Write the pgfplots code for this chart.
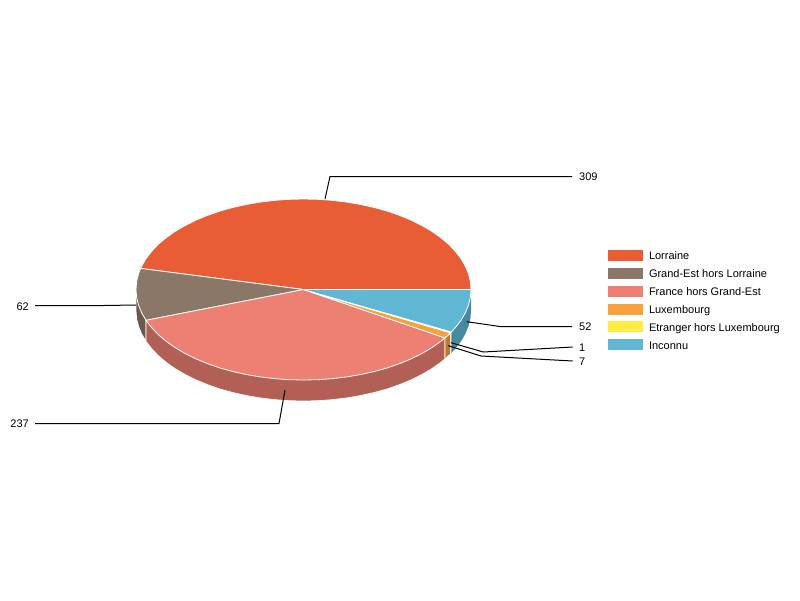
\documentclass[border=0pt]{standalone}
\usepackage{fontspec}
\setmainfont{Liberation Sans}
\usepackage{pgfplots}
\pgfplotsset{compat=1.18}

\definecolor{lorraine}{HTML}{E85C36}
\definecolor{grandest}{HTML}{8A7768}
\definecolor{france}{HTML}{ED8073}
\definecolor{luxembourg}{HTML}{F8A13C}
\definecolor{etranger}{HTML}{FFED41}
\definecolor{inconnu}{HTML}{5FB7D4}

\begin{document}
\begin{tikzpicture}[font=\fontsize{11}{13}\selectfont]
\useasboundingbox (0,0) rectangle (800pt,600pt);
\begin{axis}[
    anchor=south west,
    at={(0pt,0pt)},
    scale only axis,
    width=800pt,
    height=600pt,
    xmin=0, xmax=800,
    ymin=0, ymax=600,
    y dir=reverse,
    hide axis,
    clip=false,
    legend cell align=left,
    legend image code/.code={\fill[#1] (0pt,-3.5pt) rectangle (35pt,7.5pt); \path (41pt,0pt);},
    legend style={
        at={(axis cs:608,249.8)}, anchor=north west,
        draw=none, fill=none, inner sep=0pt, outer sep=0pt,
        row sep=5.4pt,
        column sep=0pt,
        nodes={inner sep=0pt, outer sep=0pt, text height=7.5pt, text depth=2.5pt},
    },
    pie/.style={forget plot, mark=none, draw=white, line width=0.8pt, line join=round},
    wall/.style={forget plot, mark=none, draw=white, line width=0.7pt, line join=round},
    lead/.style={forget plot, mark=none, draw=black, line width=1pt},
]

% side walls
\addplot[wall, fill=grandest!75!black] coordinates {
    (136,289.5)(136,310.5)(136.6,318.4)(138.5,326.2)(141.7,333.9)(146,341.3)(146,320.3)(136,289.5)
};
\addplot[wall, fill=france!75!black] coordinates {
    (146,320.3)(146,341.3)(151.7,348.7)(158.4,355.8)(166.3,362.4)(175.2,368.7)(185.1,374.5)(195.8,379.8)
    (207.4,384.6)(219.7,388.9)(232.7,392.5)(246.2,395.5)(260.1,397.9)(274.4,399.6)(288.9,400.7)(303.5,401)
    (318.1,400.7)(332.6,399.6)(346.9,397.9)(360.8,395.5)(374.3,392.5)(387.3,388.9)(399.6,384.6)(411.2,379.8)
    (421.9,374.5)(431.8,368.7)(440.7,362.4)(445,358.9)(445,337.9)(146,320.3)
};
\addplot[wall, fill=luxembourg!75!black] coordinates {
    (445,337.9)(445,358.9)(450.6,353.8)(450.6,332.8)(445,337.9)
};
\addplot[wall, fill=etranger!75!black] coordinates {
    (450.6,332.8)(450.6,353.8)(451.4,353)(451.4,332)(450.6,332.8)
};
\addplot[forget plot, mark=none, draw=none, fill=inconnu!75!black] coordinates {
    (451.4,332)(451.4,353)(455.3,348.7)(460.9,341.5)(465.3,333.9)(468.5,326.2)(470.4,318.4)(471,310.5)(471,289.5)(451.4,332)
};

% top face
\addplot[pie, fill=lorraine] coordinates {
    (303.5,289.5)(471,289.5)(470.4,281.6)(468.5,273.8)(465.3,266.1)(460.9,258.5)(455.3,251.3)(448.6,244.2)
    (440.7,237.6)(431.8,231.3)(421.9,225.5)(411.2,220.2)(399.6,215.4)(387.3,211.1)(374.3,207.5)(360.8,204.5)
    (346.9,202.1)(332.6,200.4)(318.1,199.3)(303.5,199)(288.9,199.3)(274.4,200.4)(260.1,202.1)(246.2,204.5)
    (232.7,207.5)(219.7,211.1)(207.4,215.4)(195.8,220.2)(185.1,225.5)(175.2,231.3)(166.3,237.6)(158.4,244.2)
    (151.7,251.3)(146.1,258.5)(141.7,266.1)(140.6,268.4)(303.5,289.5)
};
\addplot[pie, fill=grandest] coordinates {
    (303.5,289.5)(140.6,268.4)(138.5,273.8)(136.6,281.6)(136,289.5)(136.6,297.4)(138.5,305.2)(141.7,312.9)(146,320.3)(303.5,289.5)
};
\addplot[pie, fill=france] coordinates {
    (303.5,289.5)(146,320.3)(151.7,327.7)(158.4,334.8)(166.3,341.4)(175.2,347.7)(185.1,353.5)(195.8,358.8)
    (207.4,363.6)(219.7,367.9)(232.7,371.5)(246.2,374.5)(260.1,376.9)(274.4,378.6)(288.9,379.7)(303.5,380)
    (318.1,379.7)(332.6,378.6)(346.9,376.9)(360.8,374.5)(374.3,371.5)(387.3,367.9)(399.6,363.6)(411.2,358.8)
    (421.9,353.5)(431.8,347.7)(440.7,341.4)(445,337.9)(303.5,289.5)
};
\addplot[pie, fill=luxembourg] coordinates {
    (303.5,289.5)(445,337.9)(450.6,332.8)(303.5,289.5)
};
\addplot[pie, fill=etranger] coordinates {
    (303.5,289.5)(450.6,332.8)(451.4,332)(303.5,289.5)
};
\addplot[pie, fill=inconnu] coordinates {
    (303.5,289.5)(451.4,332)(455.3,327.7)(460.9,320.5)(465.3,312.9)(468.5,305.2)(470.4,297.4)(471,289.5)(303.5,289.5)
};

% leader lines
\addplot[lead] coordinates {(325,199)(330,176.5)(572,176.5)};
\addplot[lead] coordinates {(136,305)(104,305.5)(35,305.5)};
\addplot[lead] coordinates {(285,390)(279,423.5)(35,423.5)};
\addplot[lead] coordinates {(466.7,321.7)(500,326.5)(572,326.5)};
\addplot[lead] coordinates {(451,342.7)(483.3,352)(572.7,347)};
\addplot[lead] coordinates {(448.3,345.7)(481,356)(572.7,361)};

\node[anchor=west, inner sep=0pt] at (axis cs:579,177) {309};
\node[anchor=east, inner sep=0pt] at (axis cs:29,307) {62};
\node[anchor=east, inner sep=0pt] at (axis cs:29,424) {237};
\node[anchor=west, inner sep=0pt] at (axis cs:579,327) {52};
\node[anchor=west, inner sep=0pt] at (axis cs:579,348) {1};
\node[anchor=west, inner sep=0pt] at (axis cs:579,362) {7};

\addlegendimage{fill=lorraine, draw=none}
\addlegendentry{Lorraine}
\addlegendimage{fill=grandest, draw=none}
\addlegendentry{Grand-Est hors Lorraine}
\addlegendimage{fill=france, draw=none}
\addlegendentry{France hors Grand-Est}
\addlegendimage{fill=luxembourg, draw=none}
\addlegendentry{Luxembourg}
\addlegendimage{fill=etranger, draw=none}
\addlegendentry{Etranger hors Luxembourg}
\addlegendimage{fill=inconnu, draw=none}
\addlegendentry{Inconnu}
\end{axis}
\end{tikzpicture}
\end{document}
